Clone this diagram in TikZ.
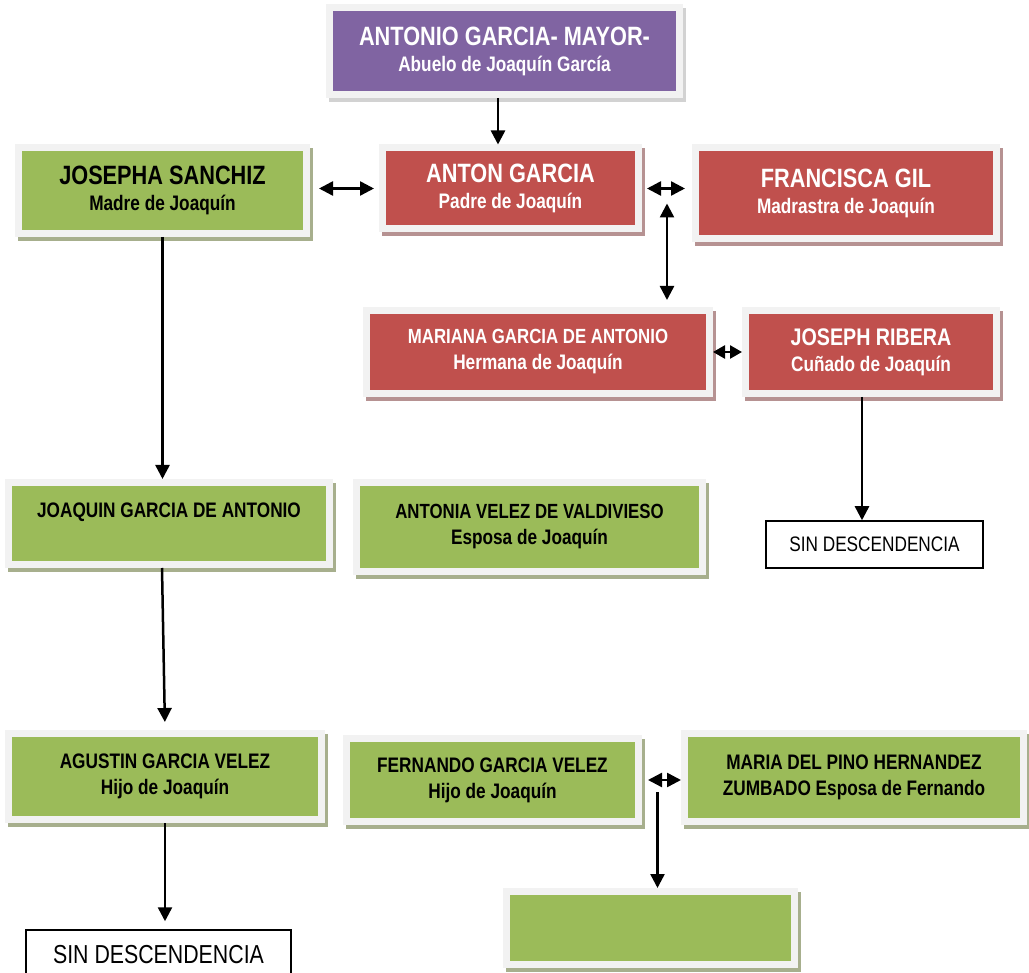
\documentclass[tikz,border=0pt]{standalone}
\usepackage{fontspec}
\setmainfont{Liberation Sans}[FakeStretch=0.82]
\usetikzlibrary{arrows.meta,shadows,calc}

\definecolor{boxpurple}{HTML}{8064A2}
\definecolor{boxred}{HTML}{C0504D}
\definecolor{boxgreen}{HTML}{9BBB59}
\definecolor{framegray}{HTML}{F2F2F2}
\definecolor{shadepurple}{HTML}{D2D2D2}
\definecolor{shadered}{HTML}{B69292}
\definecolor{shadegreen}{HTML}{A7AF8D}

\newcommand\bigname{\fontsize{26.5}{26}\selectfont}
\newcommand\subname{\fontsize{21}{26}\selectfont}

\begin{document}
\begin{tikzpicture}[x=1pt, y=-1pt,
    box/.style={draw=framegray, line width=7pt, align=center, inner sep=0pt,
                font=\bfseries\subname},
    purplebox/.style={box, fill=boxpurple, text=white,
                general shadow={shadow xshift=3pt, shadow yshift=-4pt, fill=shadepurple, draw=shadepurple, line width=7pt}},
    redbox/.style={box, fill=boxred, text=white,
                general shadow={shadow xshift=3pt, shadow yshift=-4pt, fill=shadered, draw=shadered, line width=7pt}},
    greenbox/.style={box, fill=boxgreen, text=black,
                general shadow={shadow xshift=3pt, shadow yshift=-4pt, fill=shadegreen, draw=shadegreen, line width=7pt}},
    endbox/.style={draw=black, line width=1.5pt, fill=white, inner sep=0pt},
    flow/.style={-{Triangle[length=14pt,width=14pt]}, line width=2.5pt},
    biflow/.style={{Triangle[length=14pt,width=14pt]}-{Triangle[length=14pt,width=14pt]}, line width=2.5pt},
    tightflow/.style={{Triangle[length=12pt,width=13pt]}-{Triangle[length=12pt,width=13pt]}, line width=2.5pt}]
  \useasboundingbox (0,0) rectangle (1029,973);

  % generations
  \node[purplebox, minimum width=350pt, minimum height=87pt] (abuelo) at (504.5,51)
    {{\bigname ANTONIO GARCIA- MAYOR-}\\Abuelo de Joaquín García};
  \node[greenbox, minimum width=288pt, minimum height=86pt] (josepha) at (162.5,190.5)
    {{\bigname JOSEPHA SANCHIZ}\\Madre de Joaquín};
  \node[redbox, minimum width=256pt, minimum height=81pt] (anton) at (510.5,188.5)
    {{\bigname ANTON GARCIA}\\Padre de Joaquín};
  \node[redbox, minimum width=301pt, minimum height=91pt] (francisca) at (846,193)
    {{\bigname FRANCISCA GIL}\\Madrastra de Joaquín};
  \node[redbox, minimum width=343pt, minimum height=83pt] (mariana) at (538,352)
    {{\fontsize{20.5}{26}\selectfont MARIANA GARCIA DE ANTONIO}\\Hermana de Joaquín};
  \node[redbox, minimum width=251pt, minimum height=83pt] (joseph) at (871,352)
    {{\fontsize{24}{26}\selectfont JOSEPH RIBERA}\\Cuñado de Joaquín};
  \node[greenbox, minimum width=321pt, minimum height=82pt] (joaquin) at (169,523.5)
    {JOAQUIN GARCIA DE ANTONIO\\\mbox{}};
  \node[greenbox, minimum width=346pt, minimum height=89pt] (antonia) at (529.5,527)
    {{\fontsize{20.5}{26}\selectfont ANTONIA VELEZ DE VALDIVIESO}\\Esposa de Joaquín};
  \node[endbox, minimum width=217pt, minimum height=47pt, font=\subname] (sinA) at (874.5,544.5)
    {SIN DESCENDENCIA};
  \node[greenbox, minimum width=313pt, minimum height=86pt] (agustin) at (165,776.5)
    {AGUSTIN GARCIA VELEZ\\Hijo de Joaquín};
  \node[greenbox, minimum width=292pt, minimum height=83pt] (fernando) at (492.5,780)
    {FERNANDO GARCIA VELEZ\\Hijo de Joaquín};
  \node[greenbox, minimum width=339pt, minimum height=88pt] (maria) at (854,777.5)
    {MARIA DEL PINO HERNANDEZ\\ZUMBADO Esposa de Fernando};
  \node[greenbox, minimum width=288pt, minimum height=73pt] (empty) at (650.5,928) {};
  \node[endbox, minimum width=265pt, minimum height=50pt, font=\fontsize{26}{26}\selectfont] (sinB) at (158.5,955)
    {SIN DESCENDENCIA};

  % unions
  \coordinate (wedA) at ($(anton.east)!0.5!(francisca.west |- anton.east)$);
  \coordinate (wedB) at ($(fernando.east)!0.5!(maria.west |- fernando.east)$);

  % connectors
  \draw[flow] ([xshift=-6.5pt]abuelo.south) -- ([xshift=-6.5pt]abuelo.south |- anton.north);
  \draw[biflow] ([xshift=9pt]josepha.east |- anton.west) -- ([xshift=-5pt]anton.west);
  \draw[biflow] ([xshift=5pt]anton.east) -- ([xshift=-7pt]francisca.west |- anton.east);
  \draw[biflow, shorten >=7pt] ([yshift=-15pt]wedA) -- (wedA |- mariana.north);
  \draw[tightflow] (mariana.east) -- (joseph.west);
  \draw[flow] ([xshift=-9pt]joseph.south) -- ([xshift=-9pt]joseph.south |- sinA.north);
  \draw[flow] (josepha.south) -- (josepha.south |- joaquin.north);
  \draw[flow, shorten >=8pt] ([xshift=-7pt]joaquin.south) -- (agustin.north);
  \draw[flow, shorten >=8pt] (agustin.south) -- (agustin.south |- sinB.north);
  \draw[biflow] ([xshift=6pt]fernando.east) -- (maria.west |- fernando.east);
  \draw[flow] ([xshift=-4pt,yshift=-12pt]wedB) -- ([xshift=-4pt]wedB |- empty.north);
\end{tikzpicture}
\end{document}
